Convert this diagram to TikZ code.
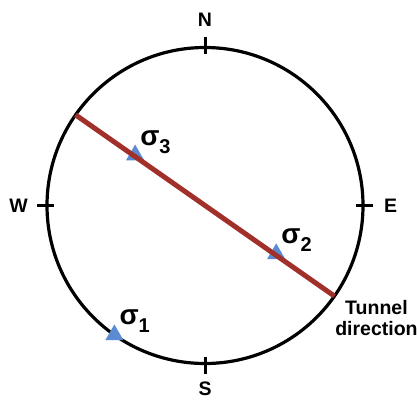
\documentclass[tikz,border=0pt]{standalone}
\usepackage{fontspec}
\setmainfont{Liberation Sans}
\usepackage{xcolor}
\definecolor{tunnelred}{HTML}{A2302A}
\definecolor{stressblue}{HTML}{5B8BD2}
\usepackage{tikz}
\usetikzlibrary{shapes.geometric,positioning,calc}
\newcommand{\sigmalab}[1]{{\fontsize{28}{28}\selectfont σ}{\fontsize{20}{20}\selectfont\raisebox{-8pt}{#1}}}

\begin{document}
\begin{tikzpicture}[x=1pt,y=-1pt,
  compassring/.style={circle,draw,line width=3.2pt,minimum size=316pt,inner sep=0pt,outer sep=0pt},
  compasstick/.style={line width=3pt},
  compasslab/.style={font=\fontsize{19.5}{21}\selectfont\bfseries,inner sep=0pt},
  tunnel/.style={tunnelred,line width=5pt},
  stressmark/.style={regular polygon,regular polygon sides=3,fill=stressblue,minimum size=21pt,inner sep=0pt},
  stresslab/.style={font=\bfseries,anchor=base west,inner sep=0pt}]
\useasboundingbox (0,0) rectangle (417,401);
\node[compassring] (ring) at (205,205.5) {};
% ticks and compass letters
\foreach \dir/\ang in {north/90,south/270,west/180,east/0}
  \draw[compasstick] ($(ring.\dir)+(\ang:10pt)$) -- ($(ring.\dir)+(\ang:-7pt)$);
\node[compasslab,above=21pt of ring.north] (n) {N};
\node[compasslab,below=18pt of ring.south] (s) {S};
\node[compasslab,left=19pt of ring.west] (w) {W};
\node[compasslab,right=21pt of ring.east] (e) {E};
% stress axes
\node[stressmark] (s1) at (ring.235.5) {};
\node[stressmark] (s3) at ($(ring.145)!0.23!(ring.-35)+(0,-1.5)$) {};
\node[stressmark] (s2) at ($(ring.145)!0.775!(ring.-35)+(0,-1.5)$) {};
\draw[tunnel] (ring.145) -- (ring.-35);
\node[stresslab] (l1) at ([xshift=5pt,yshift=10pt]s1.center) {\sigmalab{1}};
\node[stresslab] (l2) at ([xshift=5pt,yshift=10pt]s2.center) {\sigmalab{2}};
\node[stresslab] (l3) at ([xshift=5pt,yshift=10pt]s3.center) {\sigmalab{3}};
\node[compasslab,align=center,anchor=north] (dir) at ([xshift=42pt,yshift=-4pt]ring.-35) {Tunnel\\direction};
\end{tikzpicture}
\end{document}
